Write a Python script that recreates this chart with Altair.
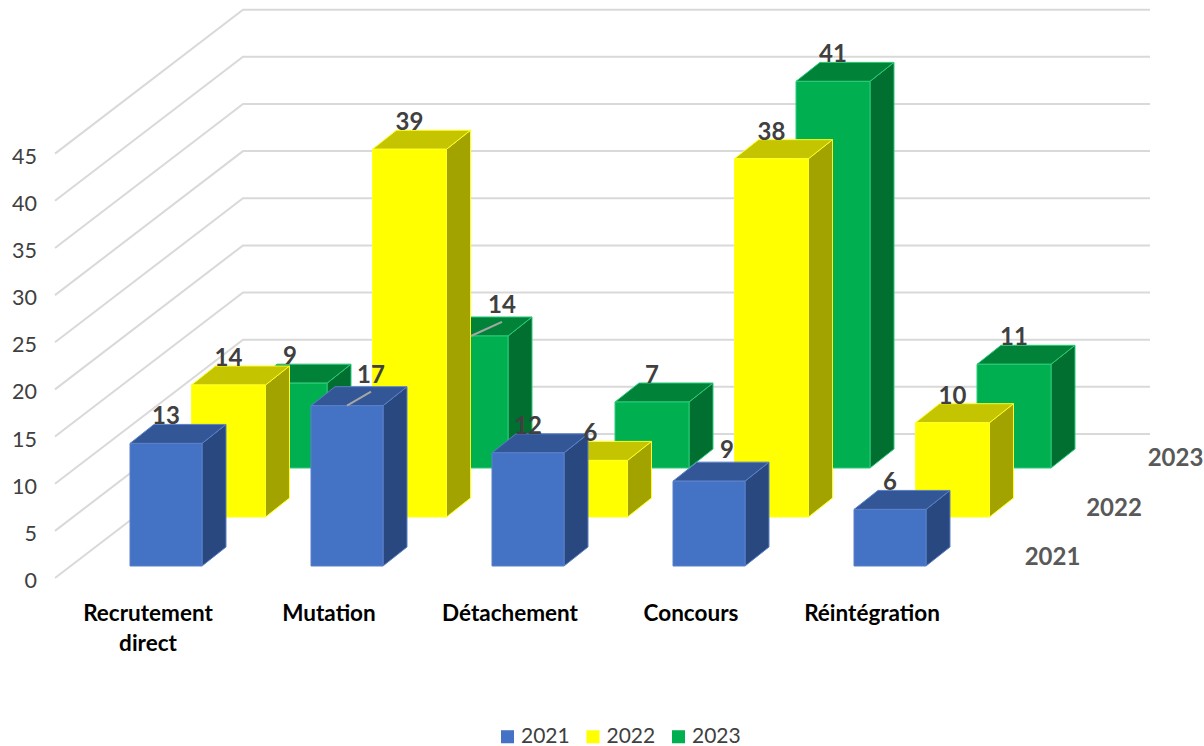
import altair as alt
import pandas as pd

# Chart values
categories = ["Recrutement direct", "Mutation", "Détachement", "Concours", "Réintégration"]
years = ["2021", "2022", "2023"]
values_2021 = [13, 17, 12, 9, 6]
values_2022 = [14, 39, 6, 38, 10]
values_2023 = [9, 14, 7, 41, 11]
series = {"2021": values_2021, "2022": values_2022, "2023": values_2023}
ticks = [0, 5, 10, 15, 20, 25, 30, 35, 40, 45]

# Oblique projection, in canvas pixels
W, H = 1204, 746
PX = 9.43            # pixels per value unit
Y0 = 578             # pixel row of value 0 on the front edge
FRONT_X, BACK_X, END_X = 55, 243, 1150
BACK_RISE = (578 - 434) / PX
BAR_W = {"2021": 72, "2022": 74, "2023": 74}
CAT_STEP, ROW_STEP = 181, 61.5
BAR_X0 = 130
SIDE_DX, SIDE_RISE = 24, 19 / PX
ROW_BASE = {"2021": (Y0 - 566) / PX, "2022": (Y0 - 517) / PX, "2023": (Y0 - 468) / PX}

front = {"2021": "#4472C4", "2022": "#FFFF00", "2023": "#00B050"}
top = {"2021": "#335697", "2022": "#C4C400", "2023": "#008339"}
side = {"2021": "#2A4880", "2022": "#A3A300", "2023": "#006F30"}
edge = {"2021": "#5A80C8", "2022": "#FFFF20", "2023": "#2CCB7A"}

# Sideways nudges of the value labels, with the two that carry a leader line
label_nudge = {("2021", 1): 24, ("2023", 1): 31, ("2021", 3): 18}
leaders = [("2021", 1), ("2023", 1)]


def v(py):
    return (Y0 - py) / PX


x_scale = alt.Scale(domain=[0, W], range=[0, W], nice=False, zero=False)
y_scale = alt.Scale(domain=[v(H), v(0)], range=[H, 0], nice=False, zero=False)
X = lambda f="x": alt.X(f"{f}:Q", scale=x_scale, axis=None)
Y = lambda f="y": alt.Y(f"{f}:Q", scale=y_scale, axis=None)

# Wall and floor gridlines
grid_rows = []
for t in ticks:
    for px, py in ((FRONT_X, t), (BACK_X, t + BACK_RISE), (END_X, t + BACK_RISE)):
        grid_rows.append({"tick": t, "x": px, "y": py})
grid = alt.Chart(pd.DataFrame(grid_rows)).mark_line(color="#D9D9D9", strokeWidth=2).encode(
    x=X(),
    y=Y(),
    detail="tick:N",
)

# Value axis: labels only, read at the front edge of the floor
value_axis = alt.Chart(pd.DataFrame({"tick": ticks})).mark_point(opacity=0).encode(
    x=alt.value(0),
    y=alt.Y(
        "tick:Q",
        scale=y_scale,
        title=None,
        axis=alt.Axis(
            values=ticks, grid=False, domain=False, ticks=False, orient="left", offset=-36.5,
            labelPadding=0, labelFont="Lato", labelFontSize=21.5, labelColor="#404040", labelOffset=3.5,
        ),
    ),
)

layers = [grid, value_axis]

# Bars are painted from the back row forward so nearer boxes cover farther ones
for r, year in reversed(list(enumerate(years))):
    side_rows, top_rows, front_rows = [], [], []
    for i, val in enumerate(series[year]):
        x0 = BAR_X0 + CAT_STEP * i + ROW_STEP * r
        x1 = x0 + BAR_W[year]
        base = ROW_BASE[year]
        peak = base + val
        front_rows.append({"year": year, "x": x0, "x2": x1, "y": base, "y2": peak})
        side_rows += [
            {"bar": i, "x": x1, "y": base, "y2": peak},
            {"bar": i, "x": x1 + SIDE_DX, "y": base + SIDE_RISE, "y2": peak + SIDE_RISE},
        ]
        top_rows += [
            {"bar": i, "y": peak, "x": x0, "x2": x1},
            {"bar": i, "y": peak + SIDE_RISE, "x": x0 + SIDE_DX, "x2": x1 + SIDE_DX},
        ]
    layers.append(
        alt.Chart(pd.DataFrame(side_rows))
        .mark_area(color=side[year], stroke=edge[year], strokeWidth=1)
        .encode(x=X(), y=Y(), y2="y2:Q", detail="bar:N")
    )
    layers.append(
        alt.Chart(pd.DataFrame(top_rows))
        .mark_area(color=top[year], stroke=edge[year], strokeWidth=1, orient="horizontal")
        .encode(y=Y(), x=X(), x2="x2:Q", detail="bar:N")
    )
    layers.append(
        alt.Chart(pd.DataFrame(front_rows))
        .mark_rect(stroke=edge[year], strokeWidth=1)
        .encode(
            x=X(), x2="x2:Q", y=Y(), y2="y2:Q",
            color=alt.Color(
                "year:N",
                scale=alt.Scale(domain=years, range=[front[y] for y in years]),
                legend=alt.Legend(
                    title=None, orient="none", legendX=497, legendY=726, direction="horizontal",
                    symbolType="square", symbolSize=170, symbolStrokeWidth=0,
                    labelFont="Lato", labelFontSize=21, labelColor="#404040",
                    columnPadding=12.5, labelOffset=3,
                ),
            ),
        )
    )

# Value labels and leader lines
label_rows, leader_rows = [], []
for r, year in enumerate(years):
    for i, val in enumerate(series[year]):
        x0 = BAR_X0 + CAT_STEP * i + ROW_STEP * r
        cx = x0 + BAR_W[year] / 2
        peak = ROW_BASE[year] + val
        nudge = label_nudge.get((year, i), 0)
        label_rows.append({"x": cx + nudge, "y": peak + 2.75 + (0.45 if nudge else 0), "label": str(val)})
        if (year, i) in leaders:
            leader_rows += [
                {"bar": f"{year}-{i}", "x": cx, "y": peak},
                {"bar": f"{year}-{i}", "x": cx + nudge, "y": peak + 1.5},
            ]
layers.append(
    alt.Chart(pd.DataFrame(leader_rows))
    .mark_line(color="#A6A6A6", strokeWidth=2)
    .encode(x=X(), y=Y(), detail="bar:N")
)
layers.append(
    alt.Chart(pd.DataFrame(label_rows))
    .mark_text(font="Lato", fontSize=24, fontWeight="bold", color="#404040", align="center", baseline="middle")
    .encode(x=X(), y=Y(), text="label:N")
)

# Category labels along the front edge
cat_rows = [
    {"x": BAR_X0 + 18 + CAT_STEP * i, "y": v(603), "label": c.replace(" ", "\n")}
    for i, c in enumerate(categories)
]
layers.append(
    alt.Chart(pd.DataFrame(cat_rows))
    .mark_text(font="Lato", fontSize=22.5, fontWeight="bold", color="#000000", align="center",
               baseline="top", lineBreak="\n", lineHeight=30)
    .encode(x=X(), y=Y(), text="label:N")
)

# Depth-axis labels, one per series row
depth_rows = [
    {"x": 1052.5 + ROW_STEP * r, "y": v(558 - 49.5 * r), "label": year}
    for r, year in enumerate(years)
]
layers.append(
    alt.Chart(pd.DataFrame(depth_rows))
    .mark_text(font="Lato", fontSize=24, fontWeight="bold", color="#595959", align="center", baseline="middle")
    .encode(x=X(), y=Y(), text="label:N")
)

chart = (
    alt.layer(*layers)
    .resolve_axis(y="independent")
    .properties(width=W, height=H, padding=0, autosize=alt.AutoSizeParams(type="none"), background="white")
    .configure_view(stroke=None)
)
chart.save("out.html", embed_options={"renderer": "svg", "actions": False})
